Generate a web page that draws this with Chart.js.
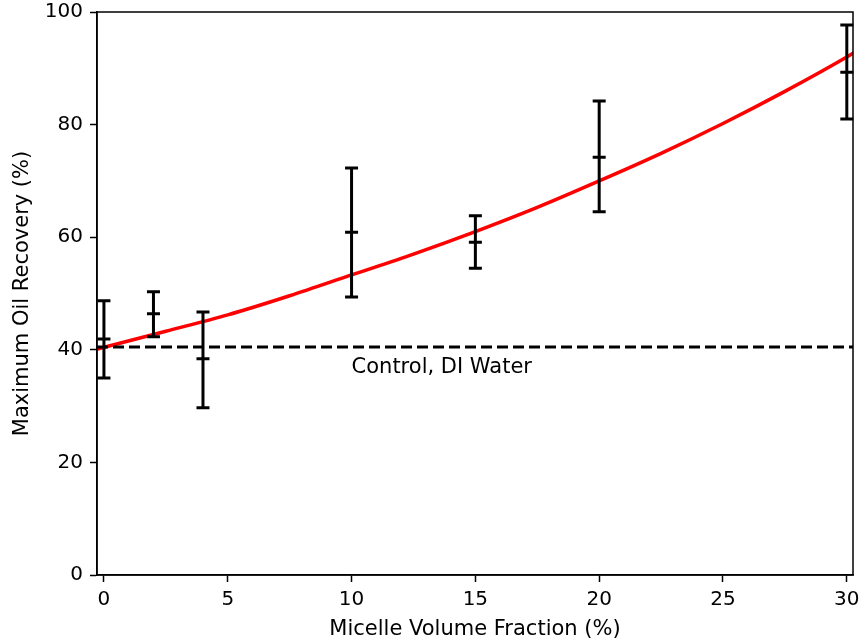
<!DOCTYPE html>
<html>
<head>
<meta charset="utf-8">
<script src="https://cdn.jsdelivr.net/npm/chart.js@4"></script>
<style>
html,body{margin:0;padding:0;background:#fff;}
#wrap{width:860px;height:643px;position:relative;}
</style>
</head>
<body>
<div id="wrap"><canvas id="c" width="860" height="643"></canvas></div>
<script>
// ---- data ----
const sampleX = [0, 2, 4, 10, 15, 20, 30];
const sampleMean = [41.9, 46.4, 38.4, 60.9, 59.1, 74.2, 89.3];
const sampleUpper = [48.7, 50.3, 46.7, 72.3, 63.8, 84.2, 97.7];
const sampleLower = [35.0, 42.3, 29.7, 49.4, 54.5, 64.5, 81.0];

const fitX = [-0.3, 2.5, 5, 7.5, 10, 12.5, 15, 17.5, 20, 22.5, 25, 27.5, 30, 30.3];
const fitY = [40.1, 43.3, 46.2, 49.6, 53.3, 57.0, 61.0, 65.3, 70.0, 74.9, 80.2, 85.9, 92.0, 92.8];

const controlLevel = 40.5;
const controlLabel = 'Control, DI Water';
const controlLabelX = 10;
const controlLabelY = 36.8;

const xTicks = [0, 5, 10, 15, 20, 25, 30];
const yTicks = [0, 20, 40, 60, 80, 100];
const xRange = [-0.28, 30.25];
const yRange = [0, 100];

const xTitle = 'Micelle Volume Fraction (%)';
const yTitle = 'Maximum Oil Recovery (%)';

// ---- build ----
const FONT = "'DejaVu Sans', sans-serif";
const fitData = fitX.map((x, i) => ({x, y: fitY[i]}));
const controlData = xRange.map(x => ({x, y: controlLevel}));

const errorBars = {
  id: 'errorBars',
  afterDatasetsDraw(chart) {
    const {ctx, scales: {x, y}} = chart;
    ctx.save();
    ctx.strokeStyle = '#000';
    ctx.lineWidth = 3;
    ctx.lineCap = 'butt';
    const hw = 6.5;
    sampleX.forEach((v, i) => {
      const px = x.getPixelForValue(v);
      const pu = y.getPixelForValue(sampleUpper[i]);
      const pl = y.getPixelForValue(sampleLower[i]);
      const pm = y.getPixelForValue(sampleMean[i]);
      ctx.beginPath();
      ctx.moveTo(px, pu); ctx.lineTo(px, pl);
      ctx.moveTo(px - hw, pu); ctx.lineTo(px + hw, pu);
      ctx.moveTo(px - hw, pl); ctx.lineTo(px + hw, pl);
      ctx.moveTo(px - hw, pm); ctx.lineTo(px + hw, pm);
      ctx.stroke();
    });
    // label
    ctx.fillStyle = '#000';
    ctx.font = '21px ' + FONT;
    ctx.textAlign = 'left';
    ctx.textBaseline = 'middle';
    ctx.fillText(controlLabel, x.getPixelForValue(controlLabelX), y.getPixelForValue(controlLabelY));
    // frame
    const a = chart.chartArea;
    ctx.lineWidth = 1.5;
    ctx.strokeRect(a.left, a.top, a.right - a.left, a.bottom - a.top);
    ctx.restore();
  }
};

new Chart(document.getElementById('c'), {
  type: 'scatter',
  data: {
    datasets: [
      {
        type: 'line',
        data: controlData,
        borderColor: '#000',
        borderWidth: 3,
        borderDash: [11, 5],
        pointRadius: 0,
        fill: false
      },
      {
        type: 'line',
        data: fitData,
        borderColor: '#ff0000',
        borderWidth: 3.5,
        pointRadius: 0,
        cubicInterpolationMode: 'monotone',
        fill: false
      }
    ]
  },
  options: {
    responsive: false,
    animation: false,
    devicePixelRatio: 1,
    layout: {padding: {top: 12, right: 7, left: 0, bottom: 0}},
    plugins: {legend: {display: false}, tooltip: {enabled: false}},
    scales: {
      x: {
        type: 'linear',
        min: xRange[0], max: xRange[1],
        afterBuildTicks: s => { s.ticks = xTicks.map(v => ({value: v})); },
        afterFit: s => { s.height = 68; s.paddingLeft = 0; s.paddingRight = 0; },
        grid: {display: true, drawOnChartArea: false, drawTicks: true, tickLength: 7, tickColor: '#000', tickWidth: 1.5},
        border: {display: true, color: '#000', width: 1.5},
        ticks: {color: '#000', font: {family: FONT, size: 20}, padding: 6, maxRotation: 0},
        title: {display: true, text: xTitle, color: '#000', font: {family: FONT, size: 21}, padding: {top: 0, bottom: 1}}
      },
      y: {
        type: 'linear',
        min: yRange[0], max: yRange[1],
        afterBuildTicks: s => { s.ticks = yTicks.map(v => ({value: v})); },
        afterFit: s => { s.width = 97; s.paddingTop = 0; s.paddingBottom = 0; },
        grid: {display: true, drawOnChartArea: false, drawTicks: true, tickLength: 7, tickColor: '#000', tickWidth: 1.5},
        border: {display: true, color: '#000', width: 1.5},
        ticks: {color: '#000', font: {family: FONT, size: 20}, padding: 7},
        title: {display: true, text: yTitle, color: '#000', font: {family: FONT, size: 21}, padding: {top: 10, bottom: 0}}
      }
    }
  },
  plugins: [errorBars]
});
</script>
</body>
</html>
